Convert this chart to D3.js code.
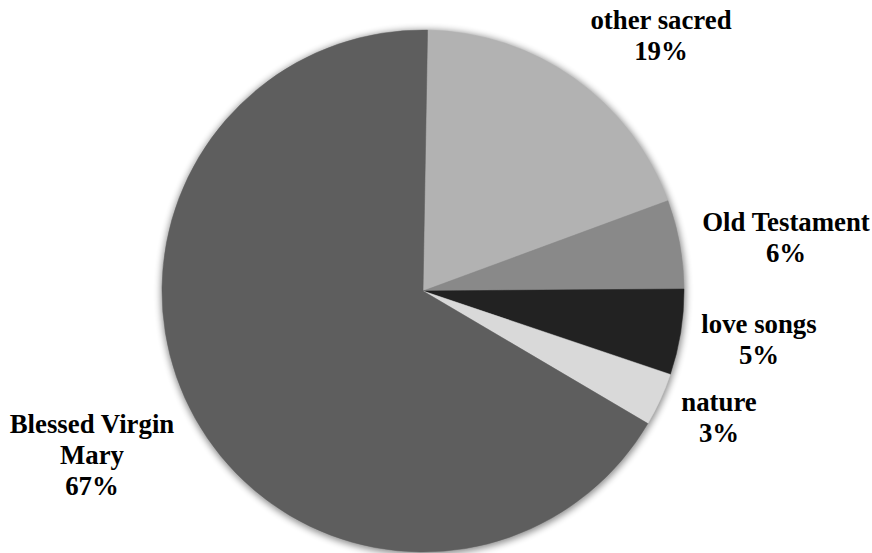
<!DOCTYPE html>
<html>
<head>
<meta charset="utf-8">
<script src="https://cdn.jsdelivr.net/npm/d3@7/dist/d3.min.js"></script>
<style>
  html, body { margin: 0; padding: 0; background: #ffffff; }
  svg { display: block; }
</style>
</head>
<body>
<svg id="chart" width="872" height="553"></svg>
<script>
// ---- data ----
const categories = ["other sacred", "Old Testament", "love songs", "nature", "Blessed Virgin Mary"];
const values = [19.1, 5.5, 5.3, 3.3, 66.8];
const labelLines = [["other sacred"], ["Old Testament"], ["love songs"], ["nature"], ["Blessed Virgin", "Mary"]];
const colors = ["#b2b2b2", "#898989", "#222222", "#d9d9d9", "#5e5e5e"];

// ---- layout ----
const W = 872, H = 553;
const cx = 423, cy = 291, R = 261;
const startDeg = 1;
const fontSize = 26.8, lineH = 31;
// label anchor: center x and first baseline y
const labelAnchors = [[661, 29], [786, 231], [759, 333], [719, 411], [92, 433]];

const svg = d3.select("#chart");
const defs = svg.append("defs");
const f = defs.append("filter").attr("id", "shadow")
  .attr("x", "-10%").attr("y", "-10%").attr("width", "120%").attr("height", "120%");
f.append("feGaussianBlur").attr("stdDeviation", 3.5);

const g = svg.append("g").attr("transform", `translate(${cx},${cy})`);

// soft outer shadow
g.append("circle").attr("cx", 0.5).attr("cy", 1.5).attr("r", R + 1.5)
  .attr("fill", "#000").attr("opacity", 0.45).attr("filter", "url(#shadow)");

const total = d3.sum(values);
const pie = d3.pie().sort(null).value(d => d)
  .startAngle(startDeg * Math.PI / 180)
  .endAngle(startDeg * Math.PI / 180 + 2 * Math.PI);
const arc = d3.arc().innerRadius(0).outerRadius(R);
const arcs = pie(values);

g.selectAll("path.slice").data(arcs).join("path")
  .attr("class", "slice")
  .attr("d", arc)
  .attr("fill", (d, i) => colors[i])
  .attr("stroke", (d, i) => colors[i])
  .attr("stroke-width", 0.5);

// labels
const fmt = v => Math.round(v / total * 100) + "%";
arcs.forEach((a, i) => {
  const [lx, ly] = labelAnchors[i];
  const lines = labelLines[i].concat([fmt(values[i])]);
  const t = svg.append("text")
    .attr("text-anchor", "middle")
    .attr("font-family", "'Liberation Serif'")
    .attr("font-weight", "bold")
    .attr("font-size", fontSize)
    .attr("fill", "#000");
  lines.forEach((ln, k) => {
    t.append("tspan").attr("x", lx).attr("y", ly + k * lineH).text(ln);
  });
});
</script>
</body>
</html>
